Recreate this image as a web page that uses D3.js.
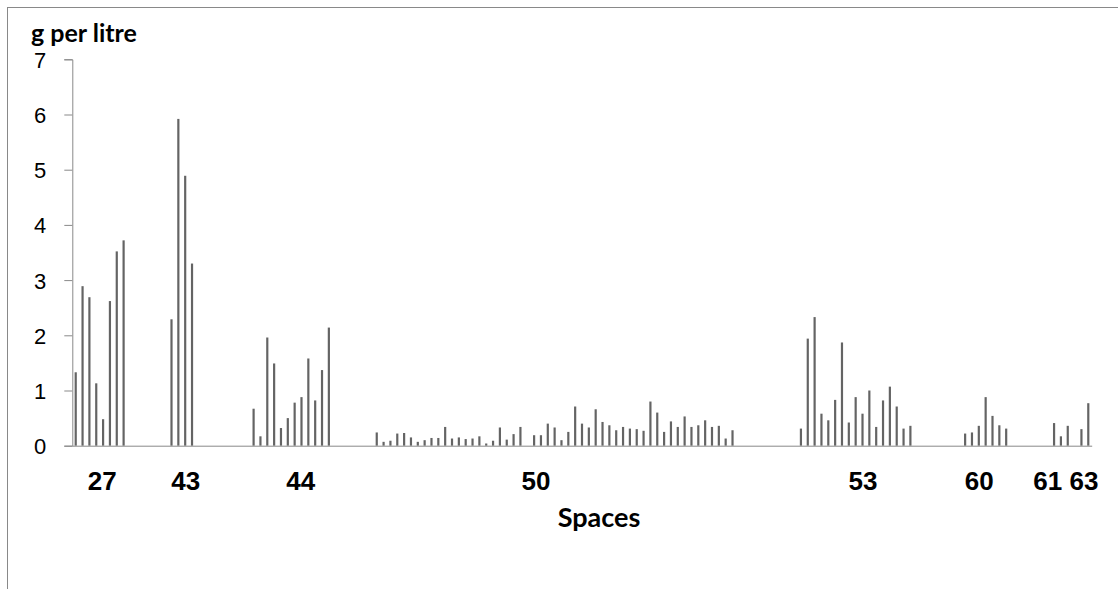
<!DOCTYPE html>
<html>
<head>
<meta charset="utf-8">
<script src="https://cdn.jsdelivr.net/npm/d3@7"></script>
<style>
  html, body { margin: 0; padding: 0; background: #fff; }
  svg { display: block; font-family: Lato, "Open Sans", sans-serif; }
</style>
</head>
<body>
<div id="viz"></div>
<script>
// g per litre, one entry per category slot; null = empty slot after each space
const space27 = [1.33, 2.89, 2.69, 1.13, 0.48, 2.62, 3.52, 3.72, null, null, null, null, null, null];
const space43 = [2.29, 5.92, 4.89, 3.30, null, null, null, null, null, null, null, null];
const space44 = [0.67, 0.17, 1.96, 1.49, 0.32, 0.50, 0.78, 0.88, 1.58, 0.82, 1.37, 2.14, null, null, null, null, null, null];
const space50 = [0.24, 0.07, 0.09, 0.22, 0.23, 0.15, 0.07, 0.10, 0.14, 0.14, 0.34, 0.13, 0.15, 0.12, 0.13, 0.17,
  0.04, 0.09, 0.33, 0.11, 0.21, 0.34, null, 0.19, 0.19, 0.40, 0.33, 0.10, 0.25, 0.71, 0.40, 0.33, 0.66, 0.43,
  0.37, 0.28, 0.34, 0.31, 0.30, 0.27, 0.80, 0.60, 0.25, 0.44, 0.34, 0.53, 0.34, 0.37, 0.46, 0.34, 0.36, 0.13, 0.28,
  null, null, null, null, null, null, null, null, null];
const space53 = [0.31, 1.94, 2.33, 0.58, 0.46, 0.83, 1.87, 0.42, 0.88, 0.58, 1.00, 0.34, 0.82, 1.07, 0.71, 0.31, 0.36,
  null, null, null, null, null, null, null];
const space60 = [0.22, 0.24, 0.36, 0.88, 0.54, 0.37, 0.31, null, null, null, null, null, null];
const space61 = [0.41, 0.17, 0.36, null];
const space63 = [0.30, 0.77];

const values = [].concat(space27, space43, space44, space50, space53, space60, space61, space63);

// category labels and the slot they sit under
const xTickLabels = ['27', '43', '44', '50', '53', '60', '61', '63'];
const xTickAt = [3.8, 16, 32.8, 67.2, 115, 132, 142, 147.3];
const yTicks = [0, 1, 2, 3, 4, 5, 6, 7];

const W = 1118, H = 589;
const margin = { left: 72.3, right: W - 1091.7, top: 59.3, bottom: H - 445.7 };
const axisColor = '#898989';

const svg = d3.select('#viz').append('svg')
  .attr('width', W)
  .attr('height', H);

svg.append('rect')
  .attr('x', 7.5).attr('y', 7.5)
  .attr('width', W + 20).attr('height', H + 20)
  .attr('fill', '#fff')
  .attr('stroke', axisColor);

const x = d3.scaleBand()
  .domain(d3.range(values.length))
  .range([margin.left, W - margin.right])
  .paddingInner(0.68)
  .paddingOuter(0.34);

const xCat = d3.scaleLinear()
  .domain([-0.5, values.length - 0.5])
  .range([margin.left, W - margin.right]);

const y = d3.scaleLinear()
  .domain([0, 7])
  .range([H - margin.bottom, margin.top]);

// bars
svg.append('g')
  .selectAll('rect')
  .data(values.map((v, i) => ({ i, v })).filter(d => d.v != null))
  .join('rect')
  .attr('x', d => x(d.i))
  .attr('width', x.bandwidth())
  .attr('y', d => y(d.v))
  .attr('height', d => y(0) - y(d.v))
  .attr('fill', '#646464');

// y axis
const yAxis = svg.append('g')
  .attr('transform', `translate(${margin.left},0)`)
  .call(d3.axisLeft(y).tickValues(yTicks).tickSize(8).tickPadding(18).tickFormat(d3.format('d')));
yAxis.selectAll('path, line').attr('stroke', axisColor);
yAxis.selectAll('text')
  .attr('fill', '#000')
  .style('font-size', '22px')
  .attr('dy', '0.36em');

// x axis
const xAxis = svg.append('g')
  .attr('transform', `translate(0,${y(0)})`)
  .call(d3.axisBottom(xCat).tickValues(xTickAt).tickSize(0).tickSizeOuter(0)
    .tickFormat((d, i) => xTickLabels[i]));
xAxis.select('.domain').attr('stroke', axisColor);
xAxis.selectAll('text')
  .attr('fill', '#000')
  .attr('y', 0)
  .attr('dy', 44.3)
  .style('font-size', '26px')
  .style('font-weight', 'bold');

// titles
svg.append('text')
  .attr('x', 31)
  .attr('y', 42)
  .style('font-size', '25px')
  .style('font-weight', 'bold')
  .text('g per litre');

svg.append('text')
  .attr('x', 599)
  .attr('y', 526.7)
  .attr('text-anchor', 'middle')
  .style('font-size', '27px')
  .style('font-weight', 'bold')
  .text('Spaces');
</script>
</body>
</html>
